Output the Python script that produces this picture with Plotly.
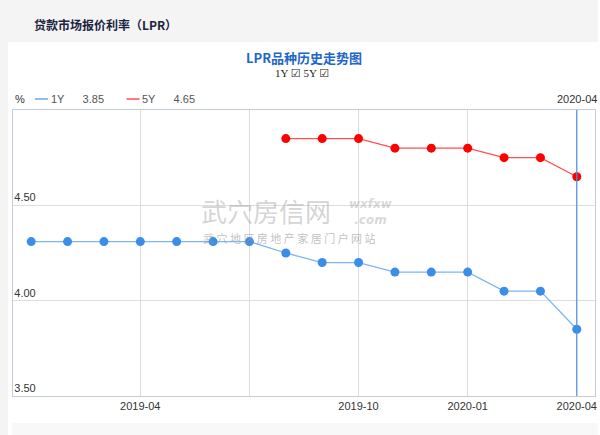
import plotly.graph_objects as go

months = ["2019-01", "2019-02", "2019-03", "2019-04", "2019-05", "2019-06",
          "2019-07", "2019-08", "2019-09", "2019-10", "2019-11", "2019-12",
          "2020-01", "2020-02", "2020-03", "2020-04"]
lpr_1y = [4.31, 4.31, 4.31, 4.31, 4.31, 4.31, 4.31, 4.25, 4.20, 4.20,
          4.15, 4.15, 4.15, 4.05, 4.05, 3.85]
lpr_5y = [None, None, None, None, None, None, None, 4.85, 4.85, 4.85,
          4.80, 4.80, 4.80, 4.75, 4.75, 4.65]
x_ticks = ["2019-04", "2019-07", "2019-10", "2020-01", "2020-04"]
x_ticktext = ["2019-04", "", "2019-10", "2020-01", "2020-04"]
y_ticks = [3.5, 4.0, 4.5]

W, H = 600, 435
L, R, T, B = 13, 3, 110, 39
pw, ph = W - L - R, H - T - B


def px(x):
    return (x - L) / pw


def py(y):
    return (H - B - y) / ph


blue_line = "#7db5f2"
blue_dot = "#3a8ee8"
red_line = "#ff5050"
red_dot = "#ff0000"

fig = go.Figure()
fig.add_trace(go.Scatter(x=months, y=lpr_1y, mode="lines+markers", name="1Y",
                         line=dict(color=blue_line, width=1.3),
                         marker=dict(color=blue_dot, size=9)))
fig.add_trace(go.Scatter(x=months, y=lpr_5y, mode="lines+markers", name="5Y",
                         line=dict(color=red_line, width=1.3),
                         marker=dict(color=red_dot, size=9)))

shapes = [
    # page header + left strip
    dict(type="rect", xref="paper", yref="paper", x0=px(0), x1=px(W), y0=py(42), y1=py(0),
         fillcolor="#f4f4f4", line_width=0, layer="below"),
    dict(type="rect", xref="paper", yref="paper", x0=px(0), x1=px(8), y0=py(H), y1=py(0),
         fillcolor="#f4f4f4", line_width=0, layer="below"),
    dict(type="rect", xref="paper", yref="paper", x0=px(12), x1=px(W), y0=py(H), y1=py(423),
         fillcolor="#f8f8f8", line_width=0, layer="below"),
    # crosshair on latest month
    dict(type="line", xref="x", yref="paper", x0=months[-1], x1=months[-1], y0=0, y1=1,
         line=dict(color="#4a90e2", width=1.2)),
    # legend swatches
    dict(type="line", xref="paper", yref="paper", x0=px(35), x1=px(48), y0=py(99), y1=py(99),
         line=dict(color="#4a90e2", width=1.2)),
    dict(type="line", xref="paper", yref="paper", x0=px(127), x1=px(140), y0=py(99), y1=py(99),
         line=dict(color="#ff2020", width=1.2)),
]

small = dict(family="Liberation Sans, Arial", size=11, color="#333333")
annotations = [
    dict(text="贷款市场报价利率（LPR）", xref="paper", yref="paper", x=px(32), y=py(25),
         xanchor="left", yanchor="middle", showarrow=False,
         font=dict(family="Noto Sans CJK SC", size=12, color="#1b2540", weight="bold")),
    dict(text="LPR品种历史走势图", xref="paper", yref="paper", x=px(305), y=py(58),
         xanchor="center", yanchor="middle", showarrow=False,
         font=dict(family="Noto Sans CJK SC", size=13, color="#1e66c8", weight="bold")),
    dict(text="1Y ☑ 5Y ☑", xref="paper", yref="paper", x=px(303), y=py(73),
         xanchor="center", yanchor="middle", showarrow=False,
         font=dict(family="Liberation Serif, DejaVu Sans", size=11, color="#222222")),
    dict(text="%", xref="paper", yref="paper", x=px(13), y=py(99),
         xanchor="left", yanchor="middle", showarrow=False, font=small),
    dict(text="1Y      " + f"{lpr_1y[-1]:.2f}", xref="paper", yref="paper", x=px(49), y=py(99),
         xanchor="left", yanchor="middle", showarrow=False, font=dict(small, color="#555555")),
    dict(text="5Y      " + f"{lpr_5y[-1]:.2f}", xref="paper", yref="paper", x=px(140), y=py(99),
         xanchor="left", yanchor="middle", showarrow=False, font=dict(small, color="#555555")),
    dict(text=months[-1], xref="x", yref="paper", x=months[-1], y=py(99),
         xanchor="center", yanchor="middle", showarrow=False, font=small),
    # watermark
    dict(text="武穴房信网", xref="paper", yref="paper", x=px(200), y=py(210),
         xanchor="left", yanchor="middle", showarrow=False,
         font=dict(family="Noto Sans CJK SC", size=26, color="rgba(160,160,160,0.45)")),
    dict(text="<i>wxfxw<br>.com</i>", xref="paper", yref="paper", x=px(348), y=py(212),
         xanchor="left", yanchor="middle", showarrow=False,
         font=dict(family="DejaVu Sans", size=12, color="rgba(170,170,170,0.45)", weight="bold")),
    dict(text="武 穴 地 区 房 地 产 家 居 门 户 网 站", xref="paper", yref="paper", x=px(202), y=py(238),
         xanchor="left", yanchor="middle", showarrow=False,
         font=dict(family="Noto Sans CJK SC", size=11, color="rgba(150,150,150,0.6)")),
]

fig.update_layout(
    width=W, height=H,
    margin=dict(l=L, r=R, t=T, b=B),
    paper_bgcolor="white", plot_bgcolor="white",
    showlegend=False,
    shapes=shapes,
    annotations=annotations,
    xaxis=dict(type="category", range=[-0.5, len(months) - 0.5],
               tickmode="array", tickvals=x_ticks, ticktext=x_ticktext,
               showgrid=True, gridcolor="#dddddd", gridwidth=1,
               showline=True, linecolor="#c5cbdb", linewidth=1, mirror=True,
               ticks="", tickfont=small, zeroline=False),
    yaxis=dict(range=[3.5, 5.0], tickmode="array", tickvals=y_ticks,
               tickformat=".2f", ticklabelposition="inside top",
               showgrid=True, gridcolor="#dddddd", gridwidth=1,
               showline=True, linecolor="#c5cbdb", linewidth=1, mirror=True,
               ticks="", tickfont=small, zeroline=False),
)

fig.write_html("out.html", config={"displayModeBar": False},
               post_script="document.body.style.margin='0';")
